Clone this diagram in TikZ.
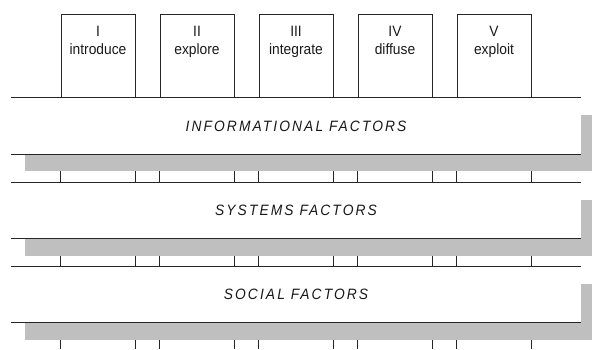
\documentclass[tikz,border=0pt]{standalone}
\usepackage{fontspec}
\setmainfont{Liberation Sans}
\newfontfamily\phasefont[FakeStretch=0.92]{Liberation Sans}
\newfontfamily\bandfont[FakeStretch=0.92, LetterSpace=14]{Liberation Sans}
\usetikzlibrary{calc}
\usetikzlibrary{shadows}
\tikzset{
	phase/.style={draw, line width=0.8pt, black!85, minimum width=74pt, minimum height=84pt, inner sep=0pt},
	phase label/.style={anchor=north, align=center, inner sep=0pt, yshift=-12.5pt, text=black!90, font=\phasefont\fontsize{15}{17.4}\selectfont},
	band/.style={fill=white, minimum width=570pt, minimum height=56pt, inner sep=0pt, text=black!90, font=\bandfont\itshape\fontsize{15}{18}\selectfont,
		drop shadow={shadow xshift=14pt, shadow yshift=-17pt, fill=black!25, opacity=1}},
	rule/.style={line width=0.8pt, black!85},
}

\begin{document}
\begin{tikzpicture}[x=1pt, y=-1pt]
	\useasboundingbox (0,0) rectangle (592,349);
	\node[phase, label={[phase label]north:{I\\introduce}}] (p1) at (98,56) {};
	\node[phase, label={[phase label]north:{II\\explore}}] (p2) at (197,56) {};
	\node[phase, label={[phase label]north:{III\\integrate}}] (p3) at (296,56) {};
	\node[phase, label={[phase label]north:{IV\\diffuse}}] (p4) at (395,56) {};
	\node[phase, label={[phase label]north:{V\\exploit}}] (p5) at (494,56) {};
	%
	\node[band] (b1) at (296,126) {INFORMATIONAL FACTORS};
	\node[band] (b2) at (296,210.5) {SYSTEMS FACTORS};
	\node[band] (b3) at (296,294.5) {SOCIAL FACTORS};
	\draw[rule] (b1.north west) -- (b1.north east) (b1.south west) -- (b1.south east);
	\draw[rule] (b2.north west) -- (b2.north east) (b2.south west) -- (b2.south east);
	\draw[rule] (b3.north west) -- (b3.north east) (b3.south west) -- (b3.south east);
	%
	\coordinate (s1) at ($(b1.south)+(0,17)$);
	\coordinate (s2) at ($(b2.south)+(0,17)$);
	\coordinate (s3) at ($(b3.south)+(0,17)$);
	\coordinate (foot) at (296,349);
	%
	\draw[rule] (p1.south west |- s1) -- (p1.south west |- b2.north) (p1.south east |- s1) -- (p1.south east |- b2.north) (p2.south west |- s1) -- (p2.south west |- b2.north) (p2.south east |- s1) -- (p2.south east |- b2.north) (p3.south west |- s1) -- (p3.south west |- b2.north) (p3.south east |- s1) -- (p3.south east |- b2.north) (p4.south west |- s1) -- (p4.south west |- b2.north) (p4.south east |- s1) -- (p4.south east |- b2.north) (p5.south west |- s1) -- (p5.south west |- b2.north) (p5.south east |- s1) -- (p5.south east |- b2.north);
	\draw[rule] (p1.south west |- s2) -- (p1.south west |- b3.north) (p1.south east |- s2) -- (p1.south east |- b3.north) (p2.south west |- s2) -- (p2.south west |- b3.north) (p2.south east |- s2) -- (p2.south east |- b3.north) (p3.south west |- s2) -- (p3.south west |- b3.north) (p3.south east |- s2) -- (p3.south east |- b3.north) (p4.south west |- s2) -- (p4.south west |- b3.north) (p4.south east |- s2) -- (p4.south east |- b3.north) (p5.south west |- s2) -- (p5.south west |- b3.north) (p5.south east |- s2) -- (p5.south east |- b3.north);
	\draw[rule] (p1.south west |- s3) -- (p1.south west |- foot) (p1.south east |- s3) -- (p1.south east |- foot) (p2.south west |- s3) -- (p2.south west |- foot) (p2.south east |- s3) -- (p2.south east |- foot) (p3.south west |- s3) -- (p3.south west |- foot) (p3.south east |- s3) -- (p3.south east |- foot) (p4.south west |- s3) -- (p4.south west |- foot) (p4.south east |- s3) -- (p4.south east |- foot) (p5.south west |- s3) -- (p5.south west |- foot) (p5.south east |- s3) -- (p5.south east |- foot);
\end{tikzpicture}
\end{document}
